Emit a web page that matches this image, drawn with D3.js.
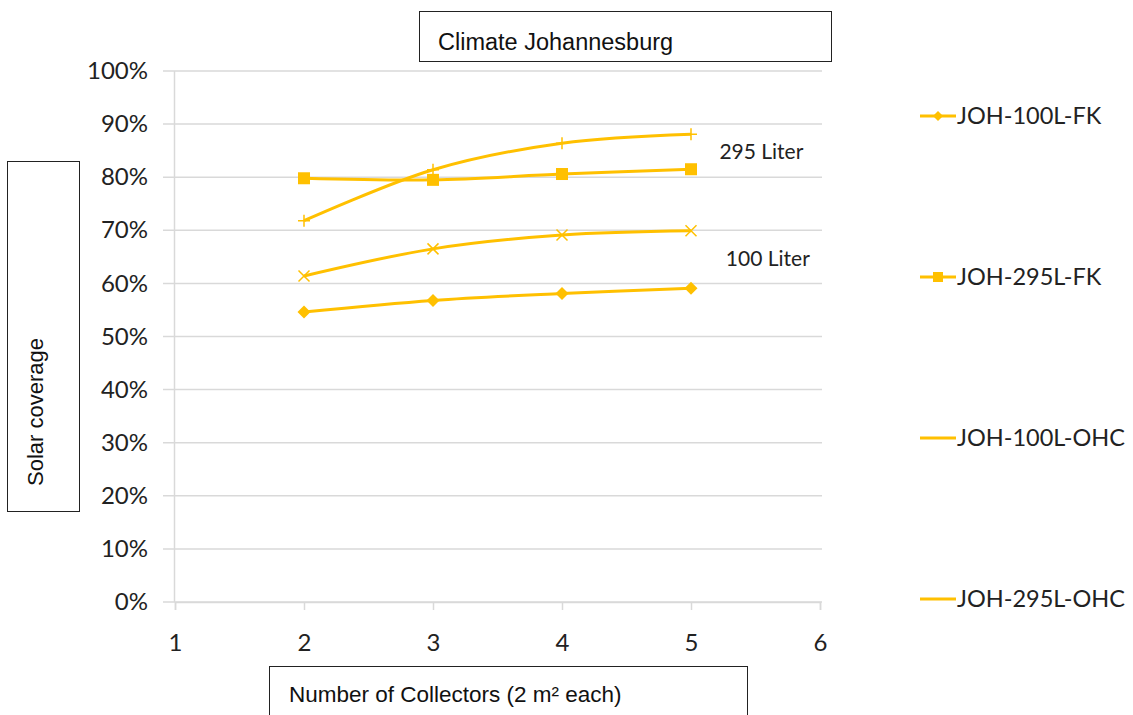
<!DOCTYPE html>
<html>
<head>
<meta charset="utf-8">
<script src="https://cdn.jsdelivr.net/npm/d3@7"></script>
<style>
  html, body { margin: 0; padding: 0; background: #fff; }
  svg { display: block; }
</style>
</head>
<body>
<svg id="chart" width="1133" height="715"></svg>
<script>
// ---- data ----
const collectors = [2, 3, 4, 5];
const seriesNames = ["JOH-100L-FK", "JOH-295L-FK", "JOH-100L-OHC", "JOH-295L-OHC"];
const joh100FK  = [0.546, 0.568, 0.581, 0.591];
const joh295FK  = [0.798, 0.795, 0.806, 0.815];
const joh100OHC = [0.614, 0.665, 0.691, 0.699];
const joh295OHC = [0.718, 0.814, 0.864, 0.881];
const markers = ["diamond", "square", "x", "plus"];
const xTicks = [1, 2, 3, 4, 5, 6];
const yTicks = [0, 0.1, 0.2, 0.3, 0.4, 0.5, 0.6, 0.7, 0.8, 0.9, 1.0];
const titleText = "Climate Johannesburg";
const xTitle = "Number of Collectors (2 m² each)";
const yTitle = "Solar coverage";
const annotations = [
  { text: "295 Liter", x: 5.22, y: 0.835 },
  { text: "100 Liter", x: 5.27, y: 0.632 }
];

const allSeries = [joh100FK, joh295FK, joh100OHC, joh295OHC];
const color = "#FFC000";
const tickFont = "Lato, 'Open Sans', sans-serif";
const boxFont = "'Liberation Sans', Arial, sans-serif";

const svg = d3.select("#chart");
const x = d3.scaleLinear().domain([1, 6]).range([175, 820]);
const y = d3.scaleLinear().domain([0, 1]).range([602, 71]);

// gridlines
svg.append("g").selectAll("line").data(yTicks).join("line")
  .attr("x1", 163).attr("x2", 822)
  .attr("y1", d => y(d)).attr("y2", d => y(d))
  .attr("stroke", "#d9d9d9").attr("stroke-width", 1.5);

// y axis line
svg.append("line").attr("x1", 174.5).attr("x2", 174.5)
  .attr("y1", y(1)).attr("y2", y(0))
  .attr("stroke", "#d9d9d9").attr("stroke-width", 1.5);

// x axis
const xAxis = d3.axisBottom(x).tickValues(xTicks).tickSize(8).tickPadding(24)
  .tickFormat(d3.format("d"));
const gx = svg.append("g").attr("transform", `translate(0,${y(0)})`).call(xAxis);
gx.select(".domain").attr("stroke", "#d9d9d9").attr("stroke-width", 1.5);
gx.selectAll(".tick line").attr("stroke", "#d9d9d9").attr("stroke-width", 1.5);
gx.selectAll(".tick text").attr("font-family", tickFont).attr("font-size", 24)
  .attr("fill", "#222");

// y axis labels
const yAxis = d3.axisLeft(y).tickValues(yTicks).tickSize(0).tickPadding(26)
  .tickFormat(d3.format(".0%"));
const gy = svg.append("g").attr("transform", `translate(174,0)`).call(yAxis);
gy.select(".domain").remove();
gy.selectAll(".tick text").attr("font-family", tickFont).attr("font-size", 24)
  .attr("fill", "#222");

// lines
const line = d3.line()
  .x((d, i) => x(collectors[i]))
  .y(d => y(d))
  .curve(d3.curveCatmullRom.alpha(0.5));

function drawMarker(g, type, cx, cy) {
  if (type === "diamond") {
    g.append("path").attr("d", `M${cx},${cy-6.5}L${cx+6.5},${cy}L${cx},${cy+6.5}L${cx-6.5},${cy}Z`)
      .attr("fill", color);
  } else if (type === "square") {
    g.append("rect").attr("x", cx-6).attr("y", cy-6).attr("width", 12).attr("height", 12)
      .attr("fill", color);
  } else if (type === "x") {
    g.append("path").attr("d", `M${cx-5.5},${cy-5.5}L${cx+5.5},${cy+5.5}M${cx-5.5},${cy+5.5}L${cx+5.5},${cy-5.5}`)
      .attr("stroke", color).attr("stroke-width", 1.5).attr("fill", "none");
  } else if (type === "plus") {
    g.append("path").attr("d", `M${cx},${cy-6}L${cx},${cy+6}M${cx-6},${cy}L${cx+6},${cy}`)
      .attr("stroke", color).attr("stroke-width", 1.5).attr("fill", "none");
  }
}

allSeries.forEach((vals, si) => {
  const g = svg.append("g");
  g.append("path").datum(vals).attr("d", line)
    .attr("fill", "none").attr("stroke", color).attr("stroke-width", 3);
  vals.forEach((v, i) => drawMarker(g, markers[si], x(collectors[i]), y(v)));
});

// annotations
svg.append("g").selectAll("text").data(annotations).join("text")
  .attr("x", d => x(d.x)).attr("y", d => y(d.y))
  .attr("font-family", tickFont).attr("font-size", 21).attr("fill", "#222")
  .text(d => d.text);

// legend
const legendY = [116, 277, 438, 599];
const lg = svg.append("g");
seriesNames.forEach((name, i) => {
  const ly = legendY[i];
  lg.append("line").attr("x1", 920).attr("x2", 956).attr("y1", ly).attr("y2", ly)
    .attr("stroke", color).attr("stroke-width", 3);
  const mg = lg.append("g");
  if (markers[i] === "diamond") {
    mg.append("path").attr("d", `M938,${ly-5}L943,${ly}L938,${ly+5}L933,${ly}Z`).attr("fill", color);
  } else if (markers[i] === "square") {
    mg.append("rect").attr("x", 933).attr("y", ly-5).attr("width", 10).attr("height", 10).attr("fill", color);
  }
  lg.append("text").attr("x", 957).attr("y", ly + 8)
    .attr("font-family", tickFont).attr("font-size", 23.5).attr("fill", "#222")
    .text(name);
});

// title box
svg.append("rect").attr("x", 419.5).attr("y", 11.5).attr("width", 412).attr("height", 50)
  .attr("fill", "#fff").attr("stroke", "#222").attr("stroke-width", 1);
svg.append("text").attr("x", 438).attr("y", 50)
  .attr("font-family", boxFont).attr("font-size", 23.5).attr("fill", "#111")
  .text(titleText);

// y title box
svg.append("rect").attr("x", 7.5).attr("y", 161.5).attr("width", 72).attr("height", 350)
  .attr("fill", "#fff").attr("stroke", "#222").attr("stroke-width", 1);
svg.append("text").attr("transform", "translate(43,486) rotate(-90)")
  .attr("font-family", boxFont).attr("font-size", 22).attr("fill", "#111")
  .text(yTitle);

// x title box
svg.append("rect").attr("x", 269.5).attr("y", 666.5).attr("width", 478).attr("height", 60)
  .attr("fill", "#fff").attr("stroke", "#222").attr("stroke-width", 1);
svg.append("text").attr("x", 289).attr("y", 702)
  .attr("font-family", boxFont).attr("font-size", 22.5).attr("fill", "#111")
  .text(xTitle);
</script>
</body>
</html>
